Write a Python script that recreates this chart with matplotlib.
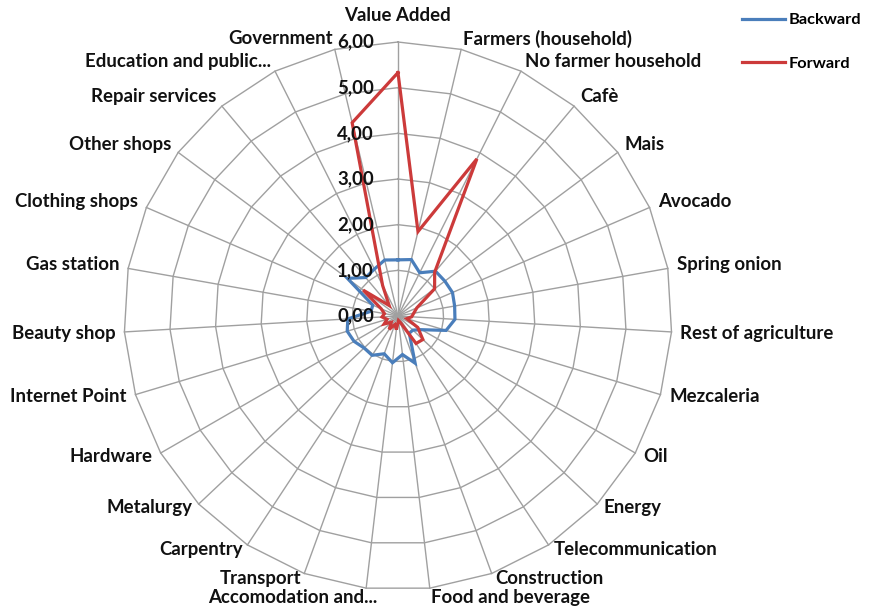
import numpy as np
import matplotlib
matplotlib.use("Agg")
import matplotlib.pyplot as plt
from matplotlib.lines import Line2D

categories = ["Value Added", "Farmers (household)", "No farmer household", "Cafè", "Mais",
              "Avocado", "Spring onion", "Rest of agriculture", "Mezcaleria", "Oil", "Energy",
              "Telecommunication", "Construction", "Food and beverage", "Accomodation and...",
              "Transport", "Carpentry", "Metalurgy", "Hardware", "Internet Point", "Beauty shop",
              "Gas station", "Clothing shops", "Other shops", "Repair services",
              "Education and public...", "Government"]

backward = [1.23, 1.27, 1.06, 1.28, 1.28, 1.30, 1.26, 1.25, 1.10, 0.60, 0.45, 0.45, 1.10,
            0.85, 1.03, 0.88, 1.03, 1.02, 1.11, 1.16, 1.10, 0.60, 0.60, 1.38, 1.10, 1.15, 1.26]
forward = [5.33, 1.90, 3.85, 1.25, 1.00, 0.45, 0.35, 0.30, 0.20, 0.50, 0.75, 0.72, 0.15,
           0.10, 0.30, 0.20, 0.35, 0.20, 0.35, 0.25, 0.35, 0.30, 0.40, 0.95, 0.30, 0.75, 4.35]

tick_values = [0, 1, 2, 3, 4, 5, 6]
tick_labels = ["0,00", "1,00", "2,00", "3,00", "4,00", "5,00", "6,00"]
series_names = ["Backward", "Forward"]

BLUE = "#4A7EBB"
RED = "#CC3A3A"
GRID = "#a0a0a0"
TXT = "#111111"
FONT = "Lato"
FS = 13.4
FW = "bold"

plt.rcParams["font.family"] = [FONT, "DejaVu Sans"]

fig = plt.figure(figsize=(8.76, 6.08), dpi=100)
fig.patch.set_facecolor("white")
ax = fig.add_axes([0.1415, 0.0296, 0.6256, 0.9013], projection="polar")
ax.set_theta_zero_location("N")
ax.set_theta_direction(-1)
ax.set_ylim(0, tick_values[-1])
ax.grid(False)
ax.spines["polar"].set_visible(False)
ax.set_xticks([])
ax.set_yticks([])
ax.patch.set_alpha(0)

n = len(categories)
theta = np.arange(n) * 2 * np.pi / n
tc = np.append(theta, theta[0])

for r in tick_values[1:]:
    ax.plot(tc, np.full(n + 1, r), color=GRID, lw=1.0, zorder=1, clip_on=False)
for t in theta:
    ax.plot([t, t], [0, tick_values[-1]], color=GRID, lw=1.0, zorder=1, clip_on=False)

ax.plot(tc, np.append(backward, backward[0]), color=BLUE, lw=2.3, zorder=3,
        solid_joinstyle="miter", clip_on=False)
ax.plot(tc, np.append(forward, forward[0]), color=RED, lw=2.3, zorder=4,
        solid_joinstyle="miter", clip_on=False)

for v, lab in zip(tick_values, tick_labels):
    ax.annotate(lab, xy=(0, v), xytext=(-24, 0), textcoords="offset pixels",
                ha="right", va="center", fontsize=FS, fontweight=FW, color=TXT, zorder=5)

rmax = tick_values[-1]
for t, lab in zip(theta, categories):
    s, c = np.sin(t), np.cos(t)
    if abs(s) < 1e-6:
        ax.annotate(lab, xy=(t, rmax), xytext=(0, 27), textcoords="offset pixels",
                    ha="center", va="center", fontsize=FS, fontweight=FW, color=TXT)
        continue
    dx = 9 * s
    dy = 3 + 8 * c if c > 0 else -1 + 4 * c
    if c < -0.97:
        dy -= 4
        if s < 0:
            dx += 12
    ha = "left" if s > 0 else "right"
    ax.annotate(lab, xy=(t, rmax), xytext=(dx, dy), textcoords="offset pixels",
                ha=ha, va="center", fontsize=FS, fontweight=FW, color=TXT)

handles = [Line2D([], [], color=BLUE, lw=2.3), Line2D([], [], color=RED, lw=2.3)]
fig.legend(handles, series_names, loc="upper left", bbox_to_anchor=(742 / 876, 1 - 13 / 608),
           frameon=False, prop={"size": 11.8, "weight": FW}, handlelength=2.6,
           handletextpad=0.25, labelspacing=1.75, borderpad=0, borderaxespad=0)

fig.savefig("out.png", dpi=100, facecolor="white")
